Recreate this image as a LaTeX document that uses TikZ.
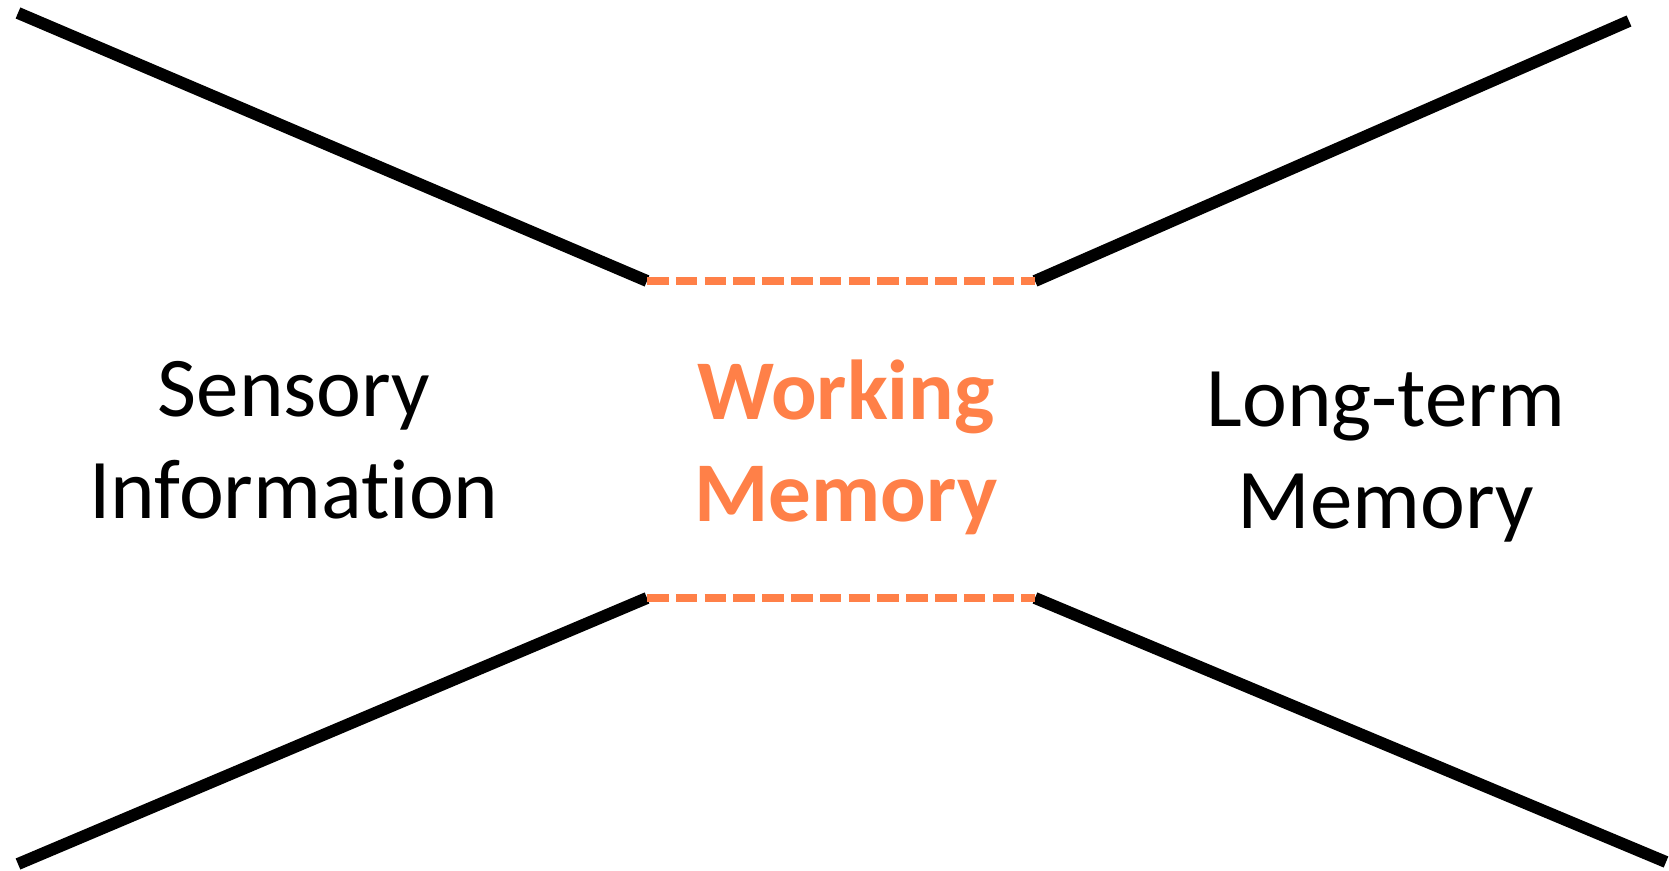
\documentclass[tikz,border=0pt]{standalone}
\usepackage{fontspec}
\setmainfont{Carlito}[Ligatures=NoCommon]
\usepackage{xcolor}
\usetikzlibrary{positioning}
\definecolor{wmorange}{RGB}{255,128,72}
\tikzset{
    funnel/.style={line width=6pt, black}, % the four black sides
    gate/.style={line width=3.8pt, wmorange, dash pattern=on 10.8pt off 3.6pt}, % dashed openings
    stagetext/.style={align=center, font=\fontsize{42.5}{51}\selectfont}, % text of each stage
}

\begin{document}
\begin{tikzpicture}[x=0.5pt, y=0.5pt]
                \useasboundingbox (0,0) rectangle (1669,871);

                % Punti
                \coordinate (tl) at (18,858);
                \coordinate (bl) at (18,7);
                \coordinate (tr) at (1629,850);
                \coordinate (br) at (1666,9);
                \coordinate (wtl) at (647,590);
                \coordinate (wtr) at (1035,590);
                \coordinate (wbl) at (647,273);
                \coordinate (wbr) at (1035,273);

                % Testi
                \node[stagetext] (sensory) at (294,431) {Sensory\\Information};
                \node[stagetext, font=\fontsize{42.5}{51}\selectfont\bfseries, text=wmorange] (working) at (846,424) {Working\\Memory};
                \node[stagetext] (longterm) at (1386,414) {Long-term\\Memory};

                % Lati
                \draw[funnel] (tl) -- (wtl);
                \draw[funnel] (bl) -- (wbl);
                \draw[funnel] (wtr) -- (tr);
                \draw[funnel] (wbr) -- (br);
                \draw[gate] (wtl) -- (wtr);
                \draw[gate] (wbl) -- (wbr);

            \end{tikzpicture}
\end{document}
